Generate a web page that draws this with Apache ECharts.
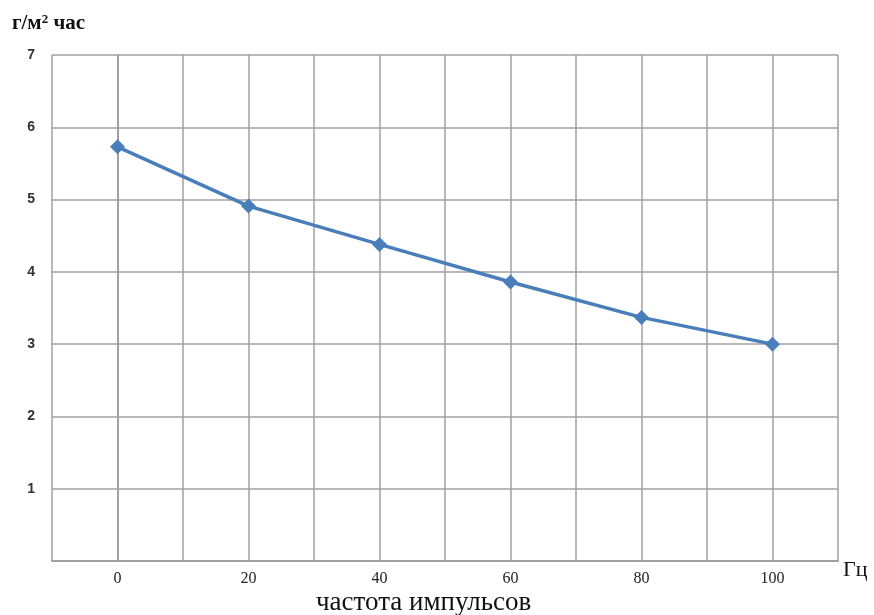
<!DOCTYPE html>
<html><head><meta charset="utf-8">
<script src="https://cdn.jsdelivr.net/npm/echarts@6/dist/echarts.min.js"></script>
<style>html,body{margin:0;padding:0;background:#fff}#c{width:874px;height:615px}</style>
</head><body><div id="c"></div>
<script>
const frequencies = [0, 20, 40, 60, 80, 100];
const values = [5.73, 4.91, 4.38, 3.86, 3.37, 3.0];
const yTicks = [1, 2, 3, 4, 5, 6, 7];
const xTickLabels = [0, 20, 40, 60, 80, 100];
const yUnit = ['г/м', '2', ' час'];
const xUnit = 'Гц';
const xTitle = 'частота импульсов';

const chart = echarts.init(document.getElementById('c'));
const serif = '"Liberation Serif","Times New Roman",serif';
chart.setOption({
  animation: false,
  grid: {left: 52, right: 36, top: 55, bottom: 54},
  xAxis: {
    type: 'value', min: -10, max: 110, interval: 10,
    axisLine: {show: true, lineStyle: {color: '#a0a0a0', width: 2}},
    axisTick: {show: false},
    splitLine: {show: true, lineStyle: {color: '#a0a0a0', width: 1.5}},
    axisLabel: {
      margin: 10, color: '#222', fontFamily: serif, fontSize: 16,
      formatter: v => xTickLabels.includes(v) ? String(v) : ''
    }
  },
  yAxis: {
    type: 'value', min: 0, max: 7, interval: 1,
    axisLine: {show: true, lineStyle: {color: '#a0a0a0', width: 2}},
    axisTick: {show: false},
    splitLine: {show: true, lineStyle: {color: '#a0a0a0', width: 1.5}},
    axisLabel: {
      margin: 17, color: '#333', fontFamily: 'Arial, "Liberation Sans", sans-serif', fontWeight: 'bold', fontSize: 14,
      formatter: v => yTicks.includes(v) ? String(v) : ''
    }
  },
  series: [{
    type: 'line',
    data: frequencies.map((f, i) => [f, values[i]]),
    symbol: 'diamond', symbolSize: 15,
    itemStyle: {color: '#4a7ebb'},
    lineStyle: {color: '#4a7ebb', width: 3.5}
  }],
  graphic: [
    {type: 'text', left: 12, top: 13, style: {
      text: '{a|' + yUnit[0] + '}{b|' + yUnit[1] + '}{a|' + yUnit[2] + '}',
      rich: {
        a: {fontFamily: serif, fontSize: 21, fill: '#111', fontWeight: 'bold'},
        b: {fontFamily: serif, fontSize: 13, fill: '#111', fontWeight: 'bold', verticalAlign: 'top', padding: [0,0,9,0]}
      }
    }},
    {type: 'text', left: 843, top: 559, style: {text: xUnit, fontFamily: serif, fontSize: 22, fill: '#111'}},
    {type: 'text', left: 316, top: 589, style: {text: xTitle, fontFamily: serif, fontSize: 27, fill: '#111'}}
  ]
});
</script></body></html>
